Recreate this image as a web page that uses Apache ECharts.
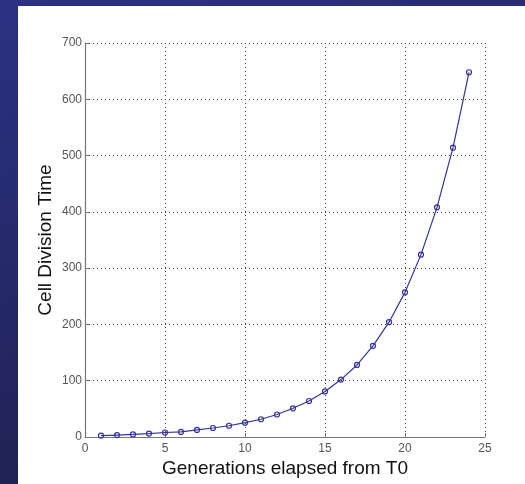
<!DOCTYPE html>
<html>
<head>
<meta charset="utf-8">
<script src="https://cdn.jsdelivr.net/npm/echarts@6/dist/echarts.min.js"></script>
<style>
html,body{margin:0;padding:0;width:525px;height:484px;overflow:hidden;}
#c{width:525px;height:484px;}
</style>
</head>
<body>
<div id="c"></div>
<script>
var generations = [1,2,3,4,5,6,7,8,9,10,11,12,13,14,15,16,17,18,19,20,21,22,23,24];
var divisionTime = [2.5,3.5,4.5,6,8,9,12.5,16,20,25.5,31.5,40,51,64,81,102,128,162,204,257,324,408,514,648];
var xTicks = [0,5,10,15,20,25];
var yTicks = [0,100,200,300,400,500,600,700];

var chart = echarts.init(document.getElementById('c'), null, {renderer:'canvas'});
var font = '"Liberation Sans", Arial, Helvetica, sans-serif';
chart.setOption({
  animation: false,
  backgroundColor: {
    type: 'linear', x: 0, y: 0, x2: 0.3, y2: 1,
    colorStops: [{offset: 0, color: '#2c3184'}, {offset: 1, color: '#1f2150'}]
  },
  graphic: [{
    type: 'rect', left: 18, top: 6, z: -10,
    shape: {width: 507, height: 478},
    style: {fill: '#ffffff'}
  }],
  grid: {left: 85, top: 43, right: 40, bottom: 47, containLabel: false},
  xAxis: {
    type: 'value', min: 0, max: 25, interval: 5,
    name: 'Generations elapsed from T0',
    nameLocation: 'middle', nameGap: 22, nameMoveOverlap: false,
    nameTextStyle: {fontFamily: font, fontSize: 19, color: '#111', verticalAlign: 'top'},
    axisLine: {show: true, onZero: false, lineStyle: {color: '#777', width: 1.2}},
    axisTick: {show: true, inside: true, length: 4, lineStyle: {color: '#777'}},
    axisLabel: {fontFamily: font, fontSize: 12, color: '#555', margin: 6,
      formatter: function(v){ return xTicks.indexOf(v) >= 0 ? String(v) : ''; }},
    splitLine: {show: true, lineStyle: {color: '#444', type: [1, 3], width: 1}}
  },
  yAxis: {
    type: 'value', min: 0, max: 700, interval: 100,
    name: 'Cell Division Time',
    nameLocation: 'middle', nameGap: 30, nameRotate: 90, nameMoveOverlap: false,
    nameTextStyle: {fontFamily: font, fontSize: 19, color: '#111'},
    axisLine: {show: true, lineStyle: {color: '#777', width: 1.2}},
    axisTick: {show: true, inside: true, length: 4, lineStyle: {color: '#777'}},
    axisLabel: {fontFamily: font, fontSize: 12, color: '#555', margin: 3,
      formatter: function(v){ return yTicks.indexOf(v) >= 0 ? String(v) : ''; }},
    splitLine: {show: true, lineStyle: {color: '#444', type: [1, 3], width: 1}}
  },
  series: [{
    type: 'line',
    data: generations.map(function(g, i){ return [g, divisionTime[i]]; }),
    symbol: 'circle', symbolSize: 5, showSymbol: true,
    lineStyle: {color: '#34349a', width: 1.2},
    itemStyle: {color: 'rgba(255,255,255,0)', borderColor: '#34349a', borderWidth: 1.2},
    emphasis: {disabled: true}
  }]
});
</script>
</body>
</html>
